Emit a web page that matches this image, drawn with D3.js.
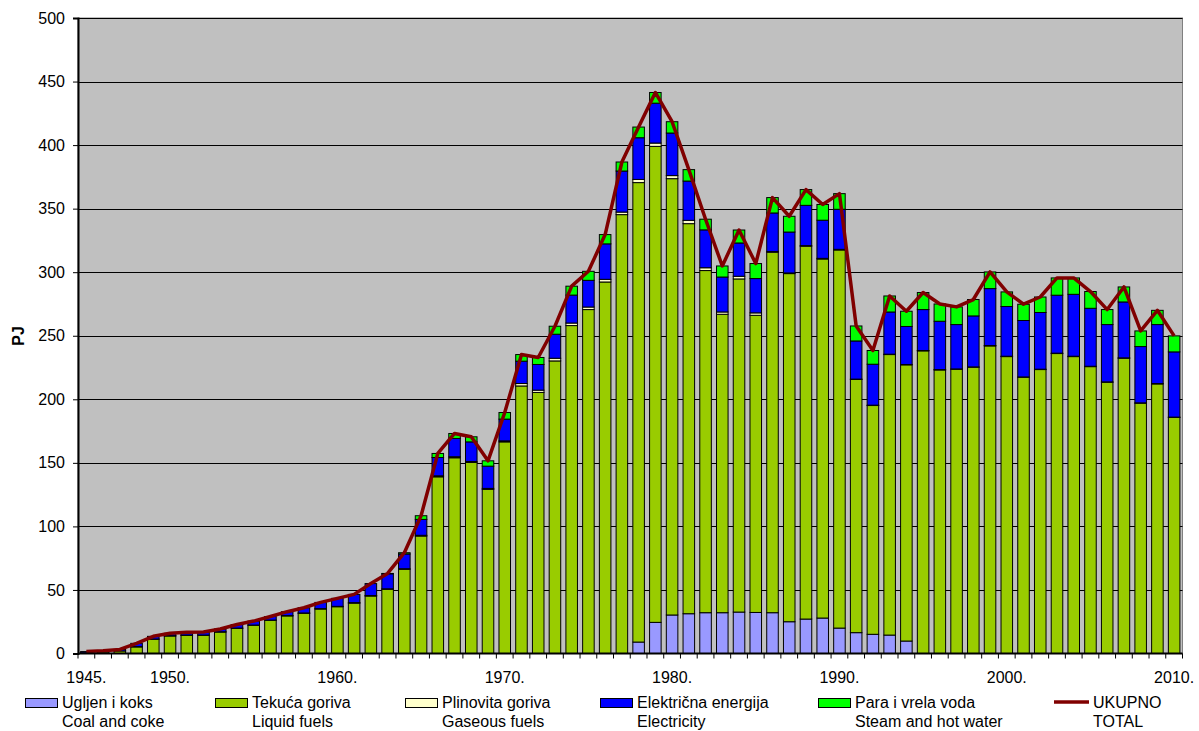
<!DOCTYPE html>
<html>
<head>
<meta charset="utf-8">
<script src="https://cdn.jsdelivr.net/npm/d3@7"></script>
<style>
  html, body { margin: 0; padding: 0; background: #ffffff; }
  svg { display: block; font-family: "Liberation Sans", Arial, sans-serif; }
</style>
</head>
<body>
<svg id="chart" width="1199" height="731"></svg>
<script>
// ---- data (PJ) ----
const years = d3.range(1945, 2011);
const xTickLabels = ["1945.", "1950.", "1960.", "1970.", "1980.", "1990.", "2000.", "2010."];
const xTickYears = [1945, 1950, 1960, 1970, 1980, 1990, 2000, 2010];
const yTicks = [0, 50, 100, 150, 200, 250, 300, 350, 400, 450, 500];

const coal = [
  0,0,0,0,0,0,0,0,0,0,0,0,0,0,0,0,0,0,0,0,0,0,0,0,0,0,0,0,0,0,0,0,0,
  9.0,24.5,30.3,31.3,32.1,32.1,32.6,32.3,32.1,25.0,27.1,27.9,20.0,16.4,15.1,14.5,9.8,
  0,0,0,0,0,0,0,0,0,0,0,0,0,0,0,0
];
const liquid = [
  0.5,1.2,2.0,5.2,11.2,13.8,14.3,14.3,16.9,19.8,22.2,26.1,29.6,31.6,35.0,36.8,39.6,45.2,50.5,66.2,
  92.4,139.0,154.0,150.3,129.1,166.5,210.5,205.4,230.2,258.0,270.6,292.3,345.3,361.5,374.5,343.3,
  306.9,269.2,234.8,262.1,233.8,283.6,273.9,293.3,282.5,297.5,199.2,180.0,220.7,217.3,238.1,223.1,
  223.6,225.2,242.0,233.6,217.3,223.4,236.0,233.6,225.7,213.4,232.3,196.9,212.1,185.7
];
const gas = [
  0,0,0,0.2,0.2,0.2,0.2,0.2,0.2,0.2,0.2,0.2,0.2,0.3,0.3,0.3,0.4,0.4,0.4,0.5,0.6,0.8,0.8,0.8,0.8,0.8,
  1.9,1.8,2.1,2.0,2.0,2.1,2.0,2.5,2.6,2.4,2.6,2.2,1.8,2.1,1.9,
  0.5,0.5,0.5,0.5,0.5,
  0.3,0.3,0.3,0.3,0.3,0.3,0.3,0.3,0.3,0.3,0.3,0.3,0.3,0.3,0.3,0.3,0.3,0.3,0.3,0.3
];
const electricity = [
  1.0,1.0,1.2,2.6,2.1,1.9,2.3,2.4,2.2,2.8,3.1,2.8,3.1,4.1,4.9,6.3,6.5,9.4,11.8,11.6,12.5,14.4,14.4,
  15.4,17.5,17.1,17.6,20.2,18.9,22.0,21.0,27.9,32.3,32.8,31.4,33.5,30.9,29.8,27.5,26.2,27.0,30.4,
  32.2,31.7,30.0,31.5,30.0,32.2,33.2,29.9,32.2,38.0,34.9,40.1,44.8,39.1,44.4,44.6,45.6,48.7,45.6,
  45.1,44.0,44.3,46.4,51.3
];
const steam = [
  0,0,0,0,0,0,0,0,0,0,0,0,0,0,0,0,0,0,
  0.3,1.0,2.9,3.2,3.9,4.0,4.2,5.2,5.2,5.5,6.3,7.0,7.1,7.3,7.1,8.4,8.4,8.9,9.0,8.4,8.7,10.2,11.8,
  12.1,12.4,12.4,12.4,12.3,11.8,10.8,12.6,12.0,13.4,13.6,13.9,12.9,13.1,11.5,12.8,12.2,13.6,12.9,
  13.2,11.8,11.8,12.3,11.2,12.6
];
const total = [
  1.5,2.2,3.2,8.0,13.5,15.9,16.8,16.9,19.3,22.8,25.5,29.1,32.9,36.0,40.2,43.4,46.5,55.0,63.0,79.3,
  108.4,157.4,173.1,170.5,151.6,189.6,235.2,232.9,257.5,289.0,300.7,329.6,386.7,414.2,441.4,418.4,
  380.7,341.7,304.9,333.2,306.8,358.7,344.0,365.0,353.3,361.8,257.7,238.4,281.3,269.3,284.0,275.0,
  272.7,278.5,300.2,284.5,274.8,280.5,295.5,295.5,284.8,270.6,288.4,253.8,270.0,249.9
];

const seriesKeys = ["coal", "liquid", "gas", "electricity", "steam"];
const seriesColors = ["#9999FF", "#99CC00", "#FFFFCC", "#0000FF", "#00FF00"];
const legendTop = ["Ugljen i koks", "Tekuća goriva", "Plinovita goriva", "Električna energija", "Para i vrela voda", "UKUPNO"];
const legendBottom = ["Coal and coke", "Liquid fuels", "Gaseous fuels", "Electricity", "Steam and hot water", "TOTAL"];

// ---- build table ----
const seriesArrays = [coal, liquid, gas, electricity, steam];
const table = years.map((yr, i) => {
  const row = { year: yr };
  seriesKeys.forEach((k, j) => row[k] = seriesArrays[j][i]);
  return row;
});

// ---- layout ----
const svg = d3.select("#chart");
const pLeft = 78, pTop = 18, pRight = 1182.5, pBottom = 653.5;

const x = d3.scaleBand().domain(years).range([pLeft, pRight]).paddingInner(0.31).paddingOuter(0.155);
const xStep = (pRight - pLeft) / years.length;
const y = d3.scaleLinear().domain([0, 500]).range([pBottom, pTop]);

// plot background
svg.append("rect")
  .attr("x", pLeft).attr("y", pTop)
  .attr("width", pRight - pLeft).attr("height", pBottom - pTop)
  .attr("fill", "#C0C0C0")
  .attr("stroke", "#808080").attr("stroke-width", 1);

// gridlines
svg.append("g").selectAll("line")
  .data(yTicks.filter(d => d > 0))
  .join("line")
  .attr("x1", pLeft).attr("x2", pRight)
  .attr("y1", d => Math.round(y(d)) + 0.5).attr("y2", d => Math.round(y(d)) + 0.5)
  .attr("stroke", "#000").attr("stroke-width", 1);

// stacked bars
const stacked = d3.stack().keys(seriesKeys)(table);
const gBars = svg.append("g");
stacked.forEach((layer, j) => {
  gBars.append("g")
    .attr("fill", seriesColors[j])
    .attr("stroke", "#000").attr("stroke-width", 1)
    .selectAll("rect")
    .data(layer.filter(d => d[1] - d[0] > 0))
    .join("rect")
    .attr("x", d => x(d.data.year))
    .attr("width", x.bandwidth())
    .attr("y", d => y(d[1]))
    .attr("height", d => Math.max(0, y(d[0]) - y(d[1])));
});

// total line
const line = d3.line()
  .x((d, i) => x(years[i]) + x.bandwidth() / 2)
  .y(d => y(d));
svg.append("path")
  .datum(total)
  .attr("d", line)
  .attr("fill", "none")
  .attr("stroke", "#800000")
  .attr("stroke-width", 3.5)
  .attr("stroke-linejoin", "round");

// y axis
const yAxis = d3.axisLeft(y).tickValues(yTicks).tickSize(5).tickPadding(8);
const gy = svg.append("g").attr("transform", `translate(${pLeft},0)`).call(yAxis);
gy.select(".domain").attr("stroke", "#000").attr("stroke-width", 2);
gy.selectAll("text").attr("font-size", 16).attr("fill", "#000")
  .attr("font-family", '"Liberation Sans", Arial, sans-serif');

// x axis line and ticks at category boundaries
const gx = svg.append("g");
gx.append("line")
  .attr("x1", pLeft).attr("x2", pRight)
  .attr("y1", pBottom).attr("y2", pBottom)
  .attr("stroke", "#000").attr("stroke-width", 2);
gx.selectAll("line.tick")
  .data(d3.range(years.length + 1))
  .join("line")
  .attr("class", "tick")
  .attr("x1", i => pLeft + i * xStep).attr("x2", i => pLeft + i * xStep)
  .attr("y1", pBottom).attr("y2", pBottom + 5)
  .attr("stroke", "#000").attr("stroke-width", 1);
gx.selectAll("text")
  .data(xTickYears)
  .join("text")
  .attr("x", d => x(d) + x.bandwidth() / 2)
  .attr("y", 683)
  .attr("text-anchor", "middle")
  .attr("font-size", 16)
  .attr("fill", "#000")
  .text((d, i) => xTickLabels[i]);

// y axis title
svg.append("text")
  .attr("transform", "translate(24,336) rotate(-90)")
  .attr("text-anchor", "middle")
  .attr("font-size", 16)
  .attr("font-weight", "bold")
  .text("PJ");

// legend
const legendX = [25, 215, 405, 600, 818, 1054];
const gl = svg.append("g");
legendTop.forEach((t, i) => {
  const lx = legendX[i];
  if (i < 5) {
    gl.append("rect")
      .attr("x", lx + 0.5).attr("y", 698.5)
      .attr("width", 32).attr("height", 9)
      .attr("fill", seriesColors[i]).attr("stroke", "#000").attr("stroke-width", 1);
  } else {
    gl.append("line")
      .attr("x1", lx).attr("x2", lx + 35)
      .attr("y1", 702).attr("y2", 702)
      .attr("stroke", "#800000").attr("stroke-width", 3.5);
  }
  const tx = i < 5 ? lx + 37 : lx + 39;
  gl.append("text").attr("x", tx).attr("y", 708).attr("font-size", 16).text(t);
  gl.append("text").attr("x", tx).attr("y", 727).attr("font-size", 16).text(legendBottom[i]);
});
</script>
</body>
</html>
